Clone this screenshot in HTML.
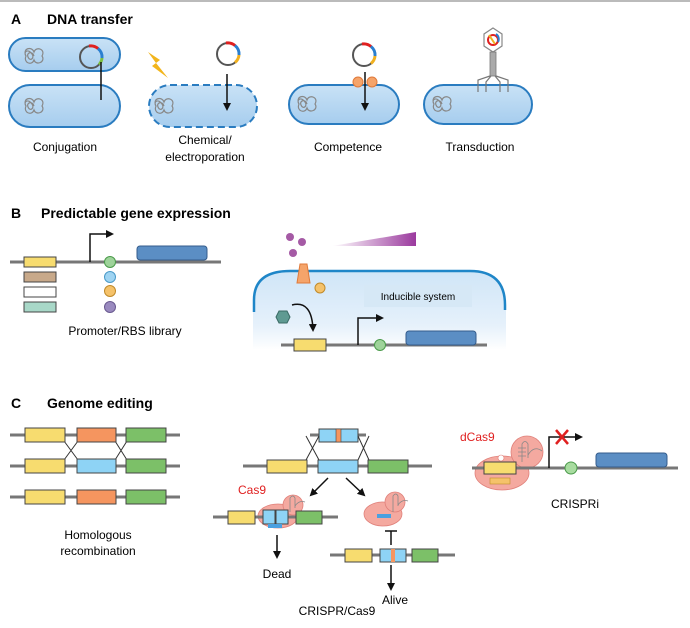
<!DOCTYPE html>
<html><head><meta charset="utf-8"><style>
body{margin:0;background:#fff}
svg{display:block;font-family:"Liberation Sans",Arial,sans-serif}
</style></head><body>
<svg width="690" height="628" viewBox="0 0 690 628" xmlns="http://www.w3.org/2000/svg">
<defs>
<linearGradient id="cell" x1="0" y1="0" x2="0" y2="1"><stop offset="0" stop-color="#c9e2f6"/><stop offset="1" stop-color="#a6cdee"/></linearGradient>
<linearGradient id="cellB" x1="0" y1="0" x2="0" y2="1"><stop offset="0" stop-color="#cfe5f7"/><stop offset="0.7" stop-color="#e6f1fb"/><stop offset="1" stop-color="#fff"/></linearGradient>
<linearGradient id="wedge" x1="0" y1="0" x2="1" y2="0"><stop offset="0" stop-color="#fff"/><stop offset="1" stop-color="#9b3a9e"/></linearGradient>
<marker id="ar" markerWidth="8" markerHeight="8" refX="6" refY="4" orient="auto" markerUnits="userSpaceOnUse"><path d="M0,0 L8,4 L0,8 z" fill="#111"/></marker>
<g id="coil"><path d="M-8,0 c-4,-8 6,-10 8,-4 c2,-6 12,-3 8,4 c4,6 -6,10 -8,4 c-2,6 -11,3 -8,-4 c-3,-4 2,-8 6,-2 c3,4 -2,8 -4,3 c-2,-5 5,-6 6,-1" fill="none" stroke="#888" stroke-width="1.2"/></g>
<g id="plasmid"><circle r="11" fill="none" stroke="#555" stroke-width="2"/><path d="M-2,-11 A11,11 0 0 1 7,-8.5" stroke="#e02020" stroke-width="3" fill="none"/><path d="M7,-8.5 A11,11 0 0 1 11,1" stroke="#2a7fd0" stroke-width="3" fill="none"/><path d="M11,1 A11,11 0 0 1 7,8.5" stroke="#f0b020" stroke-width="3" fill="none"/></g>
</defs>
<rect x="0" y="0" width="690" height="2" fill="#bbb"/>
<text x="11" y="24" font-size="14" font-weight="bold">A</text>
<text x="47" y="24" font-size="14" font-weight="bold">DNA transfer</text>
<!-- conjugation -->
<rect x="9" y="38" width="111" height="33" rx="16.5" fill="url(#cell)" stroke="#2a7cc0" stroke-width="2"/>
<rect x="9" y="85" width="111" height="42" rx="21" fill="url(#cell)" stroke="#2a7cc0" stroke-width="2"/>
<use href="#coil" x="34" y="56"/><use href="#coil" x="34" y="106"/>
<g transform="translate(91,57)"><circle r="11" fill="none" stroke="#555" stroke-width="2"/><path d="M-2,-11 A11,11 0 0 1 7,-8.5" stroke="#e02020" stroke-width="3" fill="none"/><path d="M7,-8.5 A11,11 0 0 1 11,1" stroke="#2a7fd0" stroke-width="3" fill="none"/><path d="M11,1 A11,11 0 0 1 8,7.5" stroke="#7cc040" stroke-width="3" fill="none"/></g>
<line x1="101" y1="62" x2="101" y2="100" stroke="#111" stroke-width="1.5"/>
<text x="65" y="151" font-size="12" text-anchor="middle">Conjugation</text>
<!-- chemical -->
<rect x="149" y="85" width="108" height="42" rx="21" fill="url(#cell)" stroke="#2a7cc0" stroke-width="2" stroke-dasharray="7,4"/>
<use href="#coil" x="164" y="106"/>
<path d="M148,52 L160,60 L156,63 L168,78 L152,66 L156,63 Z" fill="#f2b51c"/>
<use href="#plasmid" x="228" y="54"/>
<line x1="227" y1="74" x2="227" y2="109" stroke="#111" stroke-width="1.5" marker-end="url(#ar)"/>
<text x="205" y="144" font-size="12" text-anchor="middle">Chemical/</text>
<text x="205" y="161" font-size="12" text-anchor="middle">electroporation</text>
<!-- competence -->
<rect x="289" y="85" width="110" height="39" rx="19.5" fill="url(#cell)" stroke="#2a7cc0" stroke-width="2"/>
<use href="#coil" x="307" y="104"/>
<ellipse cx="358" cy="82" rx="5" ry="5" fill="#f5a46a" stroke="#e07a3a"/><ellipse cx="372" cy="82" rx="5" ry="5" fill="#f5a46a" stroke="#e07a3a"/>
<use href="#plasmid" x="364" y="55"/>
<line x1="365" y1="72" x2="365" y2="109" stroke="#111" stroke-width="1.5" marker-end="url(#ar)"/>
<text x="348" y="151" font-size="12" text-anchor="middle">Competence</text>
<!-- transduction -->
<rect x="424" y="85" width="108" height="39" rx="19.5" fill="url(#cell)" stroke="#2a7cc0" stroke-width="2"/>
<use href="#coil" x="442" y="104"/>
<polygon points="493,28 502,34 502,46 493,52 484,46 484,34" fill="#fff" stroke="#888" stroke-width="1.2"/>
<circle cx="493" cy="40" r="5" fill="none" stroke="#e02020" stroke-width="2"/><path d="M489,35 L495,44" stroke="#f0b020" stroke-width="2"/><path d="M496,34 A6,6 0 0 1 498,42" stroke="#2a7fd0" stroke-width="2" fill="none"/>
<rect x="490" y="52" width="6" height="24" fill="#aaa" stroke="#777" stroke-width="0.8"/>
<path d="M490,76 L478,80 L478,92 M496,76 L508,80 L508,92 M491,76 L486,82 L486,92 M495,76 L500,82 L500,92" fill="none" stroke="#777" stroke-width="1.2"/>
<text x="480" y="151" font-size="12" text-anchor="middle">Transduction</text>

<!-- B -->
<text x="11" y="218" font-size="14" font-weight="bold">B</text>
<text x="41" y="218" font-size="14" font-weight="bold">Predictable gene expression</text>
<line x1="10" y1="262" x2="221" y2="262" stroke="#777" stroke-width="3"/>
<rect x="24" y="257" width="32" height="10" fill="#f7dc6f" stroke="#444"/>
<rect x="24" y="272" width="32" height="10" fill="#c8a98a" stroke="#444"/>
<rect x="24" y="287" width="32" height="10" fill="#fff" stroke="#444"/>
<rect x="24" y="302" width="32" height="10" fill="#a8d8c8" stroke="#444"/>
<path d="M90,262 V234 H112" fill="none" stroke="#111" stroke-width="1.5" marker-end="url(#ar)"/>
<circle cx="110" cy="262" r="5.5" fill="#9ed39a" stroke="#4a9a4a"/>
<circle cx="110" cy="277" r="5.5" fill="#9fd4f2" stroke="#4a9ac8"/>
<circle cx="110" cy="291" r="5.5" fill="#f5c26a" stroke="#c08a2a"/>
<circle cx="110" cy="307" r="5.5" fill="#9a8abf" stroke="#6a5a90"/>
<rect x="137" y="246" width="70" height="14" rx="3" fill="#5b8ec4" stroke="#345c8c"/>
<text x="125" y="335" font-size="12" text-anchor="middle">Promoter/RBS library</text>
<circle cx="290" cy="237" r="4" fill="#a55aa5"/><circle cx="302" cy="242" r="4" fill="#a55aa5"/><circle cx="293" cy="253" r="4" fill="#a55aa5"/>
<polygon points="332,246 416,232 416,246" fill="url(#wedge)"/>
<path d="M253,312 V300 Q253,270 290,270 H470 Q506,270 506,305 V350 H253 Z" fill="url(#cellB)"/>
<path d="M254,312 V300 Q254,271 290,271 H470 Q505,271 505,305 V310" fill="none" stroke="#1f86c8" stroke-width="2.5"/>
<polygon points="300,264 307,264 310,283 297,283" fill="#f5a46a" stroke="#e07a3a"/>
<circle cx="320" cy="288" r="5" fill="#f5c26a" stroke="#c08a2a"/>
<rect x="364" y="285" width="108" height="22" fill="#d6e8f6"/>
<text x="418" y="300" font-size="10" text-anchor="middle">Inducible system</text>
<polygon points="279,311 287,311 290,317 287,323 279,323 276,317" fill="#5f9a92" stroke="#3a6a64"/>
<path d="M292,305 Q312,300 313,330" fill="none" stroke="#111" stroke-width="1.5" marker-end="url(#ar)"/>
<line x1="281" y1="345" x2="487" y2="345" stroke="#777" stroke-width="3"/>
<rect x="294" y="339" width="32" height="12" fill="#f7dc6f" stroke="#444"/>
<path d="M358,345 V318 H382" fill="none" stroke="#111" stroke-width="1.5" marker-end="url(#ar)"/>
<circle cx="380" cy="345" r="5.5" fill="#9ed39a" stroke="#4a9a4a"/>
<rect x="406" y="331" width="70" height="14" rx="3" fill="#5b8ec4" stroke="#345c8c"/>

<!-- C -->
<text x="11" y="408" font-size="14" font-weight="bold">C</text>
<text x="47" y="408" font-size="14" font-weight="bold">Genome editing</text>
<g stroke="#777" stroke-width="3"><line x1="10" y1="435" x2="180" y2="435"/><line x1="10" y1="466" x2="180" y2="466"/><line x1="10" y1="497" x2="180" y2="497"/></g>
<path d="M64,441 L78,460 M78,441 L64,460 M115,441 L127,460 M127,441 L115,460" stroke="#333" stroke-width="1"/>
<g stroke="#444" stroke-width="1">
<rect x="25" y="428" width="40" height="14" fill="#f7dc6f"/><rect x="77" y="428" width="39" height="14" fill="#f5955f"/><rect x="126" y="428" width="40" height="14" fill="#7cc068"/>
<rect x="25" y="459" width="40" height="14" fill="#f7dc6f"/><rect x="77" y="459" width="39" height="14" fill="#8ed3f5"/><rect x="126" y="459" width="40" height="14" fill="#7cc068"/>
<rect x="25" y="490" width="40" height="14" fill="#f7dc6f"/><rect x="77" y="490" width="39" height="14" fill="#f5955f"/><rect x="126" y="490" width="40" height="14" fill="#7cc068"/>
</g>
<text x="98" y="539" font-size="12" text-anchor="middle">Homologous</text>
<text x="98" y="555" font-size="12" text-anchor="middle">recombination</text>
<!-- CRISPR -->
<line x1="310" y1="435" x2="366" y2="435" stroke="#777" stroke-width="3"/>
<rect x="319" y="429" width="39" height="13" fill="#8ed3f5" stroke="#444"/><rect x="336" y="429" width="5" height="13" fill="#f5955f" stroke="#444" stroke-width="0.6"/>
<path d="M306,436 L319,460 M319,436 L306,460 M358,436 L369,460 M369,436 L358,460" stroke="#333" stroke-width="1"/>
<line x1="243" y1="466" x2="432" y2="466" stroke="#777" stroke-width="3"/>
<rect x="267" y="460" width="40" height="13" fill="#f7dc6f" stroke="#444"/><rect x="318" y="460" width="40" height="13" fill="#8ed3f5" stroke="#444"/><rect x="368" y="460" width="40" height="13" fill="#7cc068" stroke="#444"/>
<line x1="328" y1="478" x2="311" y2="495" stroke="#111" stroke-width="1.5" marker-end="url(#ar)"/>
<line x1="346" y1="478" x2="364" y2="495" stroke="#111" stroke-width="1.5" marker-end="url(#ar)"/>
<text x="238" y="494" font-size="12" fill="#e02020">Cas9</text>
<ellipse cx="278" cy="516" rx="20" ry="12" fill="#f4a9a0" stroke="#e0807a" stroke-width="0.8"/><circle cx="293" cy="505" r="10" fill="#f4a9a0" stroke="#e0807a" stroke-width="0.8"/>
<path d="M290,512 V498 q3,-4 5,0 V508 M295,506 q4,-6 10,-4" fill="none" stroke="#888" stroke-width="0.8"/>
<line x1="213" y1="517" x2="338" y2="517" stroke="#777" stroke-width="3"/>
<rect x="228" y="511" width="27" height="13" fill="#f7dc6f" stroke="#444"/><rect x="263" y="510" width="12" height="14" fill="#8ed3f5" stroke="#444"/><rect x="276" y="510" width="12" height="14" fill="#8ed3f5" stroke="#444"/><rect x="296" y="511" width="26" height="13" fill="#7cc068" stroke="#444"/>
<rect x="268" y="524" width="14" height="4" fill="#4aa0e0"/>
<line x1="277" y1="535" x2="277" y2="557" stroke="#111" stroke-width="1.5" marker-end="url(#ar)"/>
<text x="277" y="578" font-size="12" text-anchor="middle">Dead</text>
<ellipse cx="383" cy="514" rx="19" ry="12" fill="#f4a9a0" stroke="#e0807a" stroke-width="0.8"/><circle cx="395" cy="502" r="10" fill="#f4a9a0" stroke="#e0807a" stroke-width="0.8"/>
<path d="M393,512 V496 q3,-4 5,0 V506 M398,505 q4,-6 10,-4" fill="none" stroke="#888" stroke-width="0.8"/>
<rect x="377" y="514" width="14" height="4" fill="#4aa0e0"/>
<path d="M391,545 V531 M385,531 H397" stroke="#111" stroke-width="1.5"/>
<line x1="330" y1="555" x2="455" y2="555" stroke="#777" stroke-width="3"/>
<rect x="345" y="549" width="27" height="13" fill="#f7dc6f" stroke="#444"/><rect x="380" y="549" width="26" height="13" fill="#8ed3f5" stroke="#444"/><rect x="391" y="549" width="4" height="13" fill="#f5955f"/><rect x="412" y="549" width="26" height="13" fill="#7cc068" stroke="#444"/>
<line x1="391" y1="565" x2="391" y2="589" stroke="#111" stroke-width="1.5" marker-end="url(#ar)"/>
<text x="395" y="604" font-size="12" text-anchor="middle">Alive</text>
<text x="337" y="615" font-size="12" text-anchor="middle">CRISPR/Cas9</text>
<!-- CRISPRi -->
<text x="460" y="441" font-size="12" fill="#e02020">dCas9</text>
<ellipse cx="502" cy="473" rx="27" ry="17" fill="#f4a9a0" stroke="#e0807a" stroke-width="0.8"/><circle cx="527" cy="452" r="16" fill="#f4a9a0" stroke="#e0807a" stroke-width="0.8"/>
<path d="M522,462 V444 q3,-5 6,0 V458 M528,455 q6,-10 14,-4 M518,448 h8 M518,452 h8 M518,456 h8" fill="none" stroke="#888" stroke-width="0.8"/>
<circle cx="501" cy="458" r="3" fill="#fff" stroke="#e0807a" stroke-width="0.6"/>
<line x1="472" y1="468" x2="678" y2="468" stroke="#777" stroke-width="3"/>
<rect x="484" y="462" width="32" height="12" fill="#f7dc6f" stroke="#444"/>
<rect x="490" y="478" width="20" height="6" fill="#f5c26a" stroke="#c08a2a" stroke-width="0.6"/>
<path d="M549,468 V437 H581" fill="none" stroke="#111" stroke-width="1.5" marker-end="url(#ar)"/>
<path d="M556,430 L568,444 M568,430 L556,444" stroke="#e02020" stroke-width="2.5"/>
<circle cx="571" cy="468" r="6" fill="#a8dca0" stroke="#4a9a4a"/>
<rect x="596" y="453" width="71" height="14" rx="3" fill="#5b8ec4" stroke="#345c8c"/>
<text x="575" y="508" font-size="12" text-anchor="middle">CRISPRi</text>
</svg>
</body></html>
